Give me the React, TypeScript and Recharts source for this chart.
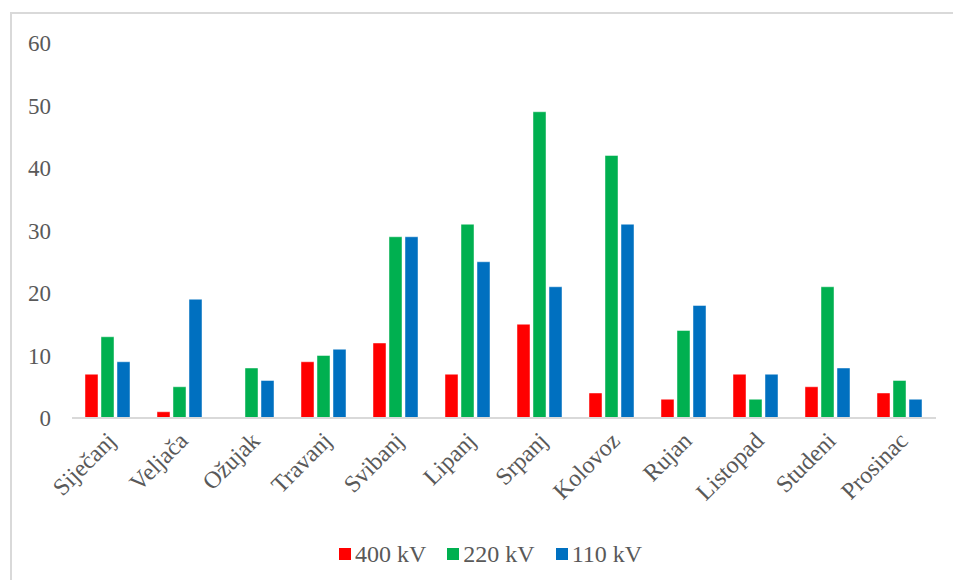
import React from "react";
import { BarChart, Bar, XAxis, YAxis, Legend } from "recharts";

// Monthly counts per voltage level
const months = [
  "Siječanj", "Veljača", "Ožujak", "Travanj", "Svibanj", "Lipanj",
  "Srpanj", "Kolovoz", "Rujan", "Listopad", "Studeni", "Prosinac",
];
const kv400 = [7, 1, 0, 9, 12, 7, 15, 4, 3, 7, 5, 4];
const kv220 = [13, 5, 8, 10, 29, 31, 49, 42, 14, 3, 21, 6];
const kv110 = [9, 19, 6, 11, 29, 25, 21, 31, 18, 7, 8, 3];
const yTicks = [0, 10, 20, 30, 40, 50, 60];

const series = [
  { key: "kv400", name: "400 kV", color: "#FF0000" },
  { key: "kv220", name: "220 kV", color: "#00B050" },
  { key: "kv110", name: "110 kV", color: "#0070C0" },
];

const data = months.map((m, i) => ({
  month: m,
  kv400: kv400[i],
  kv220: kv220[i],
  kv110: kv110[i],
}));

const FONT = "'Liberation Serif', 'Times New Roman', serif";
const TEXT = "#595959";

const MonthTick = (props: any) => {
  const { x, y, payload } = props;
  return (
    <g transform={`translate(${x + 5},${y + 12})`}>
      <text
        x={0}
        y={0}
        dy={6}
        textAnchor="end"
        transform="rotate(-45)"
        fill={TEXT}
        fontSize={24}
        fontFamily={FONT}
      >
        {payload.value}
      </text>
    </g>
  );
};

const LegendContent = () => (
  <div
    style={{
      display: "flex",
      justifyContent: "flex-start",
      gap: 21,
      fontFamily: FONT,
      fontSize: 24,
      lineHeight: "28px",
      color: TEXT,
      paddingLeft: 339,
    }}
  >
    {series.map((s) => (
      <div key={s.key} style={{ display: "flex", alignItems: "center" }}>
        <span
          style={{
            display: "inline-block",
            width: 12,
            height: 12,
            background: s.color,
            marginRight: 4,
          }}
        />
        <span>{s.name}</span>
      </div>
    ))}
  </div>
);

export default function App() {
  return (
    <div
      style={{
        position: "absolute",
        left: 0,
        top: 0,
        width: 953,
        height: 580,
        background: "#ffffff",
        overflow: "hidden",
      }}
    >
      <div
        style={{
          position: "absolute",
          left: 10,
          top: 12,
          width: 960,
          height: 600,
          borderLeft: "2px solid #d9d9d9",
          borderTop: "2px solid #d9d9d9",
        }}
      />
      <div style={{ position: "absolute", left: 0, top: 0 }}>
        <BarChart
          width={953}
          height={580}
          data={data}
          margin={{ top: 43, right: 17, bottom: 0, left: 0 }}
          barCategoryGap={13}
          barGap={3}
        >
          <XAxis
            dataKey="month"
            axisLine={{ stroke: "#d9d9d9", strokeWidth: 2 }}
            tickLine={false}
            tick={<MonthTick />}
            interval={0}
            height={122}
          />
          <YAxis
            domain={[0, 60]}
            ticks={yTicks}
            axisLine={false}
            tickLine={false}
            tickSize={0}
            tickMargin={21}
            width={72}
            tick={{ fill: TEXT, fontSize: 23, fontFamily: FONT }}
          />
          <Legend
            verticalAlign="bottom"
            height={40}
            content={<LegendContent />}
          />
          {series.map((s) => (
            <Bar
              key={s.key}
              dataKey={s.key}
              name={s.name}
              fill={s.color}
              stroke="#ffffff"
              strokeOpacity={0.45}
              strokeWidth={1}
              isAnimationActive={false}
            />
          ))}
        </BarChart>
      </div>
    </div>
  );
}
